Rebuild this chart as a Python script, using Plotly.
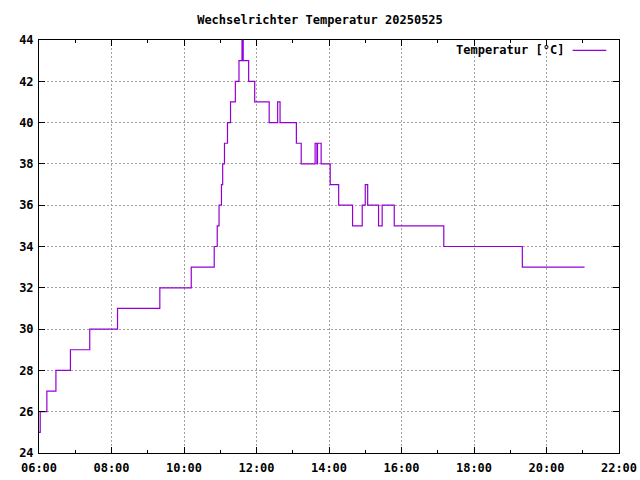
import plotly.graph_objects as go

# Step data: each value holds from its time until the next time
times = [
    "06:00", "06:02", "06:13", "06:28", "06:52", "07:24", "08:10", "09:20",
    "10:12", "10:50", "10:55", "10:58", "11:02", "11:04", "11:07", "11:12",
    "11:17", "11:25", "11:31", "11:36", "11:38", "11:47", "11:57", "12:21",
    "12:35", "12:39", "13:06", "13:14", "13:37", "13:40", "13:41", "13:47",
    "14:02", "14:16", "14:39", "14:55", "15:00", "15:04", "15:22", "15:28",
    "15:48", "17:10", "19:20", "21:03",
]
temps = [
    25, 26, 27, 28, 29, 30, 31, 32,
    33, 34, 35, 36, 37, 38, 39, 40,
    41, 42, 43, 44, 43, 42, 41, 40,
    41, 40, 39, 38, 39, 38, 39, 38,
    37, 36, 35, 36, 37, 36, 35, 36,
    35, 34, 33, 33,
]
day = "2025-05-25"
x_vals = [f"{day} {t}" for t in times]

title_text = "Wechselrichter Temperatur 20250525"
series_name = "Temperatur [°C]"

font_mono = "DejaVu Sans Mono"
line_color = "#9400D3"

fig = go.Figure()

fig.add_trace(go.Scatter(
    x=x_vals,
    y=temps,
    mode="lines",
    line=dict(color=line_color, width=1.2, shape="hv"),
    name=series_name,
    showlegend=False,
))

axis_common = dict(
    automargin=False,
    showline=True,
    linecolor="black",
    linewidth=1,
    mirror="allticks",
    ticks="inside",
    ticklen=6,
    tickcolor="black",
    showgrid=True,
    gridcolor="#a0a0a0",
    griddash="2px,2px",
    gridwidth=1,
    zeroline=False,
    tickfont=dict(family=font_mono, size=12, color="black", weight="bold"),
)

fig.update_xaxes(
    type="date",
    range=[f"{day} 06:00", f"{day} 22:00"],
    dtick=7200000,
    tick0=f"{day} 06:00",
    tickformat="%H:%M",
    ticklabelstandoff=4,
    minor=dict(dtick=3600000, ticks="inside", ticklen=3, tickcolor="black", showgrid=False),
    **axis_common,
)
fig.update_yaxes(
    range=[24, 44],
    dtick=2,
    ticklabelstandoff=2,
    minor=dict(dtick=1, ticks="", showgrid=False),
    **axis_common,
)

# gnuplot-style key: text on the left, line sample on the right
fig.add_annotation(
    text=series_name,
    xref="paper", yref="paper",
    x=0.908, y=0.975,
    xanchor="right", yanchor="middle",
    showarrow=False,
    font=dict(family=font_mono, size=12, color="black", weight="bold"),
)
fig.add_shape(
    type="line",
    xref="paper", yref="paper",
    x0=0.92, x1=0.978, y0=0.975, y1=0.975,
    line=dict(color=line_color, width=1.2),
)

fig.update_layout(
    title=dict(
        text=title_text,
        x=0.5, xanchor="center",
        y=0.958, yanchor="middle",
        font=dict(family=font_mono, size=12, color="black", weight="bold"),
    ),
    width=640,
    height=480,
    paper_bgcolor="white",
    plot_bgcolor="white",
    margin=dict(l=39, r=21, t=40, b=27),
    showlegend=False,
)

# drop the browser's default body margin so the chart sits at the page corner
fig.write_html(
    "out.html",
    config={"displayModeBar": False},
    post_script="document.body.style.margin='0'; document.body.style.overflow='hidden';",
)
